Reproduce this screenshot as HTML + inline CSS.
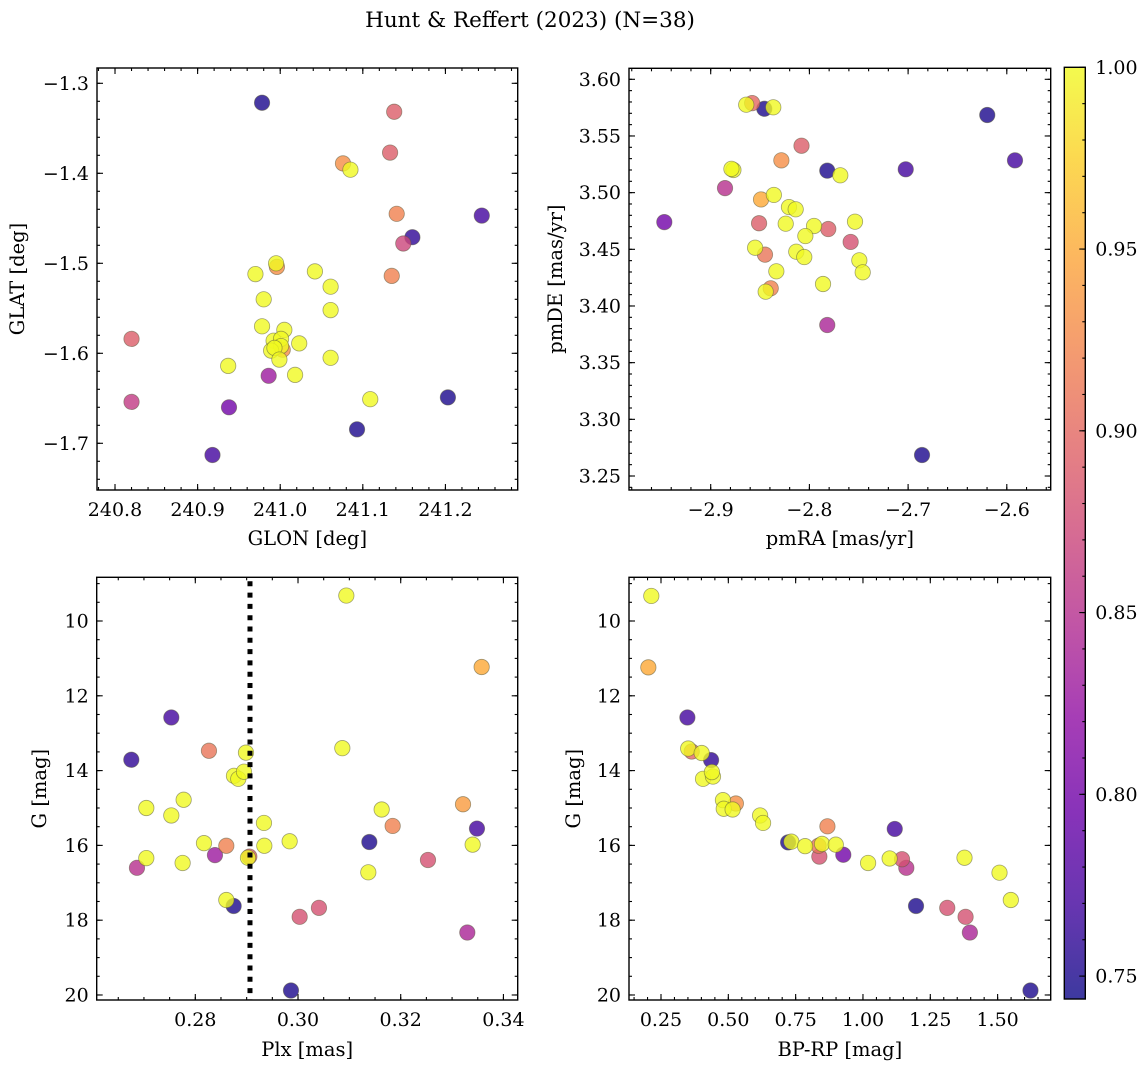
<!DOCTYPE html>
<html><head><meta charset="utf-8"><style>
html,body{margin:0;padding:0;background:#fff;}
svg{display:block;font-family:"DejaVu Serif","Liberation Serif",serif;}
</style></head><body>
<svg id="fig" width="1148" height="1067" viewBox="0 0 1148 1067" xmlns="http://www.w3.org/2000/svg">
<defs><linearGradient id="cbg" x1="0" y1="1" x2="0" y2="0"></linearGradient></defs>
<text x="530" y="27" font-size="21.5" text-anchor="middle">Hunt &amp; Reffert (2023) (N=38)</text>
</svg>
<script>
// ---- data ----
const p1Glon=[240.978,241.138,241.133,241.076,241.085,241.141,241.244,241.160,241.149,241.135,240.996,240.995,240.970,241.042,241.061,240.980,241.061,240.978,241.005,240.820,240.992,241.001,241.023,241.003,241.001,240.989,240.993,240.999,241.061,240.937,240.986,241.018,240.820,241.203,241.109,240.938,241.093,240.918];
const p1Glat=[-1.3216,-1.3316,-1.377,-1.389,-1.396,-1.445,-1.447,-1.471,-1.478,-1.514,-1.504,-1.500,-1.512,-1.509,-1.526,-1.540,-1.552,-1.570,-1.574,-1.584,-1.586,-1.584,-1.589,-1.596,-1.592,-1.597,-1.594,-1.607,-1.605,-1.614,-1.625,-1.624,-1.654,-1.649,-1.651,-1.660,-1.6845,-1.713];
const p1Prob=[0.75,0.89,0.89,0.93,1,0.92,0.77,0.76,0.87,0.92,0.93,1,1,1,1,1,1,1,1,0.89,1,1,1,0.93,1,1,1,1,1,1,0.83,1,0.86,0.75,1,0.80,0.75,0.77];

const p2PmRA=[-2.947,-2.8855,-2.877,-2.879,-2.864,-2.858,-2.8457,-2.8366,-2.849,-2.836,-2.851,-2.855,-2.845,-2.8284,-2.808,-2.8207,-2.8139,-2.824,-2.7953,-2.8041,-2.8133,-2.8052,-2.8335,-2.8392,-2.8443,-2.7819,-2.7687,-2.7809,-2.7582,-2.7538,-2.7494,-2.746,-2.7862,-2.7819,-2.7024,-2.6198,-2.5917,-2.6859];
const p2PmDE=[3.474,3.504,3.520,3.521,3.5776,3.579,3.574,3.5753,3.494,3.498,3.473,3.4514,3.4453,3.5285,3.5414,3.4873,3.4853,3.4726,3.4706,3.4617,3.4479,3.4432,3.4306,3.4156,3.4126,3.5194,3.5153,3.4679,3.4565,3.4744,3.4403,3.4297,3.4194,3.3832,3.5206,3.5685,3.5285,3.2685];
const p2Prob=[0.80,0.85,1,1,1,0.90,0.75,1,0.95,1,0.89,1,0.91,0.93,0.89,1,1,1,1,1,1,1,1,0.92,1,0.75,1,0.89,0.88,1,1,1,1,0.84,0.77,0.75,0.77,0.75];

const p3Plx=[0.30941,0.33576,0.27533,0.26754,0.28266,0.28987,0.30863,0.28753,0.28837,0.28948,0.27046,0.27533,0.27773,0.28169,0.28383,0.28604,0.29052,0.29026,0.29337,0.29344,0.29837,0.27046,0.26864,0.27753,0.28604,0.28747,0.30032,0.30408,0.29863,0.31629,0.31843,0.31389,0.31369,0.32531,0.33213,0.33485,0.33401,0.33297];
const p3G=[9.32,11.23,12.58,13.71,13.47,13.52,13.40,14.14,14.22,14.03,15.00,15.20,14.78,15.94,16.26,16.01,16.30,16.33,15.40,16.01,15.89,16.34,16.60,16.47,17.46,17.62,17.91,17.67,19.88,15.04,15.48,15.91,16.72,16.39,14.90,15.55,15.98,18.33];
const p3Prob=[1,0.95,0.77,0.76,0.91,1,1,1,1,1,1,1,1,1,0.83,0.92,0.89,1,1,1,1,1,0.85,1,1,0.75,0.88,0.88,0.75,1,0.92,0.75,1,0.88,0.94,0.77,1,0.84];
const plxLine=[0.29065];

const p4BpRp=[0.214,0.203,0.348,0.364,0.351,0.401,0.436,0.406,0.443,0.439,0.480,0.483,0.528,0.516,0.618,0.629,0.722,0.734,0.785,0.835,0.838,0.848,0.868,0.899,0.927,1.019,1.099,1.118,1.145,1.161,1.197,1.313,1.377,1.381,1.397,1.507,1.549,1.622];
const p4G=[9.33,11.24,12.58,13.49,13.41,13.53,13.72,14.22,14.16,14.04,14.79,15.02,14.88,15.04,15.20,15.40,15.92,15.90,16.02,16.01,16.30,15.96,15.49,15.98,16.25,16.47,16.35,15.56,16.37,16.60,17.62,17.67,16.33,17.91,18.33,16.73,17.46,19.88];
const p4Prob=[1,0.95,0.77,0.90,1,1,0.76,1,1,1,1,1,0.93,1,1,1,0.75,1,1,0.91,0.88,1,0.92,1,0.80,1,1,0.77,0.88,0.85,0.75,0.88,1,0.88,0.84,1,1,0.75];

const p1XTicks=[240.8,240.9,241.0,241.1,241.2];
const p1XLabels=["240.8","240.9","241.0","241.1","241.2"];
const p1YTicks=[-1.3,-1.4,-1.5,-1.6,-1.7];
const p1YLabels=["−1.3","−1.4","−1.5","−1.6","−1.7"];
const p2XTicks=[-2.9,-2.8,-2.7,-2.6];
const p2XLabels=["−2.9","−2.8","−2.7","−2.6"];
const p2YTicks=[3.25,3.30,3.35,3.40,3.45,3.50,3.55,3.60];
const p2YLabels=["3.25","3.30","3.35","3.40","3.45","3.50","3.55","3.60"];
const p3XTicks=[0.28,0.30,0.32,0.34];
const p3XLabels=["0.28","0.30","0.32","0.34"];
const gTicks=[10,12,14,16,18,20];
const gLabels=["10","12","14","16","18","20"];
const p4XTicks=[0.25,0.50,0.75,1.00,1.25,1.50];
const p4XLabels=["0.25","0.50","0.75","1.00","1.25","1.50"];
const cbTicks=[0.75,0.80,0.85,0.90,0.95,1.00];
const cbLabels=["0.75","0.80","0.85","0.90","0.95","1.00"];

// ---- rendering ----
const NS="http://www.w3.org/2000/svg";
const svg=document.getElementById('fig');
const VMIN=0.7437, VMAX=1.0;
const FS=19;
const plasma=[[13,8,135],[65,4,157],[106,0,168],[143,13,164],[177,42,144],[204,71,120],[225,100,98],[242,132,75],[252,166,54],[252,206,37],[240,249,33]];
function cmap(v){let t=Math.max(0,Math.min(1,(v-VMIN)/(VMAX-VMIN)))*10;let i=Math.min(9,Math.floor(t));let f=t-i;
 const a=plasma[i],b=plasma[i+1];return 'rgb('+a.map((c,k)=>Math.round(c+(b[k]-c)*f)).join(',')+')';}
function mk(tag,attrs,parent){const e=document.createElementNS(NS,tag);for(const k in attrs)e.setAttribute(k,attrs[k]);(parent||svg).appendChild(e);return e;}

function panel(o){
 const g=mk('g',{});
 
 
 const [L,T,R,B]=o.box;
 const sx=v=>L+(v-o.xd[0])/(o.xd[1]-o.xd[0])*(R-L);
 const sy=o.invY? v=>T+(v-o.yd[0])/(o.yd[1]-o.yd[0])*(B-T) : v=>B-(v-o.yd[0])/(o.yd[1]-o.yd[0])*(B-T);
 const minorX=[],minorY=[];
 for(let v=Math.ceil(o.xd[0]/o.xm-1e-6)*o.xm;v<=o.xd[1];v+=o.xm)minorX.push(v);
 for(let v=Math.ceil(o.yd[0]/o.ym-1e-6)*o.ym;v<=o.yd[1];v+=o.ym)minorY.push(v);
 const tg=mk('g',{stroke:'#000','stroke-width':1.1},g);
 
 
 minorX.forEach(v=>{const x=sx(v);mk('line',{x1:x,x2:x,y1:B,y2:B-3},tg);mk('line',{x1:x,x2:x,y1:T,y2:T+3},tg);});
 minorY.forEach(v=>{const y=sy(v);mk('line',{x1:L,x2:L+3,y1:y,y2:y},tg);mk('line',{x1:R,x2:R-3,y1:y,y2:y},tg);});
 o.xt.forEach((v,i)=>{const x=sx(v);mk('line',{x1:x,x2:x,y1:B,y2:B-6},tg);mk('line',{x1:x,x2:x,y1:T,y2:T+6},tg);
  const t=mk('text',{x:x,y:B+26,'font-size':FS,'text-anchor':'middle'},g);t.textContent=o.xl[i];
  
  });
 o.yt.forEach((v,i)=>{const y=sy(v);mk('line',{x1:L,x2:L+6,y1:y,y2:y},tg);mk('line',{x1:R,x2:R-6,y1:y,y2:y},tg);
  const t=mk('text',{x:L-8,y:y+6.5,'font-size':FS,'text-anchor':'end'},g);t.textContent=o.yl[i];
  
  });
 const pg=mk('g',{},g);
 
 
 const idx=o.x.map((_,i)=>i).sort((a,b)=>o.c[a]-o.c[b]);
 idx.forEach(i=>{const c=mk('circle',{cx:sx(o.x[i]),cy:sy(o.y[i]),r:7.7,fill:cmap(o.c[i]),'fill-opacity':0.8,stroke:'rgba(90,90,60,0.55)','stroke-width':0.8},pg);
  
  });
 if(o.vline){const x=sx(o.vline[0]);const l=mk('line',{x1:x,x2:x,y1:T,y2:B,stroke:'#000','stroke-width':5,'stroke-dasharray':'5 6.3','stroke-dashoffset':-4},g);
  
  }
 const fr=mk('rect',{x:L,y:T,width:R-L,height:B-T,fill:'none',stroke:'#000','stroke-width':1.4},g);
 
 
 const xl=mk('text',{x:(L+R)/2,y:o.xlY,'font-size':19.5,'text-anchor':'middle'},g);xl.textContent=o.xlab;
 
 
 const yl=mk('text',{x:0,y:0,'font-size':19.5,'text-anchor':'middle',transform:`translate(${o.ylX},${(T+B)/2}) rotate(-90)`},g);yl.textContent=o.ylab;
 
 
}

panel({name:'panel-glon-glat',box:[97,68,517.7,490],xd:[240.7782,241.2875],yd:[-1.7519,-1.2830],xm:0.02,ym:0.02,
 x:p1Glon,y:p1Glat,c:p1Prob,xt:p1XTicks,xl:p1XLabels,yt:p1YTicks,yl:p1YLabels,xlab:'GLON [deg]',ylab:'GLAT [deg]',xlY:545,ylX:24});
panel({name:'panel-proper-motion',box:[629,68.3,1050.7,490],xd:[-2.98278,-2.55552],yd:[3.23765,3.60971],xm:0.02,ym:0.01,
 x:p2PmRA,y:p2PmDE,c:p2Prob,xt:p2XTicks,xl:p2XLabels,yt:p2YTicks,yl:p2YLabels,xlab:'pmRA [mas/yr]',ylab:'pmDE [mas/yr]',xlY:545,ylX:562});
panel({name:'panel-plx-g',box:[96.7,577.3,517.7,1000],xd:[0.26080,0.34278],yd:[8.8316,20.134],invY:true,xm:0.005,ym:0.5,
 x:p3Plx,y:p3G,c:p3Prob,xt:p3XTicks,xl:p3XLabels,yt:gTicks,yl:gLabels,xlab:'Plx [mas]',ylab:'G [mag]',xlY:1056,ylX:46,vline:plxLine});
panel({name:'panel-cmd',box:[629,577.3,1050.7,1000],xd:[0.13117,1.6971],yd:[8.8316,20.134],invY:true,xm:0.05,ym:0.5,
 x:p4BpRp,y:p4G,c:p4Prob,xt:p4XTicks,xl:p4XLabels,yt:gTicks,yl:gLabels,xlab:'BP-RP [mag]',ylab:'G [mag]',xlY:1056,ylX:580});

// colorbar
(function(){
 const grad=document.getElementById('cbg');
 for(let i=0;i<=20;i++){const v=VMIN+(VMAX-VMIN)*i/20;mk('stop',{offset:(i*5)+'%','stop-color':cmap(v),'stop-opacity':0.8},grad);}
 const L=1064.3,R=1085.3,T=67.3,B=999;
 const sy=v=>B-(v-VMIN)/(VMAX-VMIN)*(B-T);
 const g=mk('g',{});
 
 
 mk('rect',{x:L,y:T,width:R-L,height:B-T,fill:'url(#cbg)'},g);
 for(let v=0.75;v<=1.0001;v+=0.01){const y=sy(v);mk('line',{x1:R,x2:R-3,y1:y,y2:y,stroke:'#000','stroke-width':1.1},g);}
 cbTicks.forEach((v,i)=>{const y=sy(v);mk('line',{x1:R,x2:R-6,y1:y,y2:y,stroke:'#000','stroke-width':1.1},g);
  const t=mk('text',{x:R+10,y:y+6.5,'font-size':FS},g);t.textContent=cbLabels[i];
  
  });
 mk('rect',{x:L,y:T,width:R-L,height:B-T,fill:'none',stroke:'#000','stroke-width':1.4},g);
})();
</script>
</body></html>
